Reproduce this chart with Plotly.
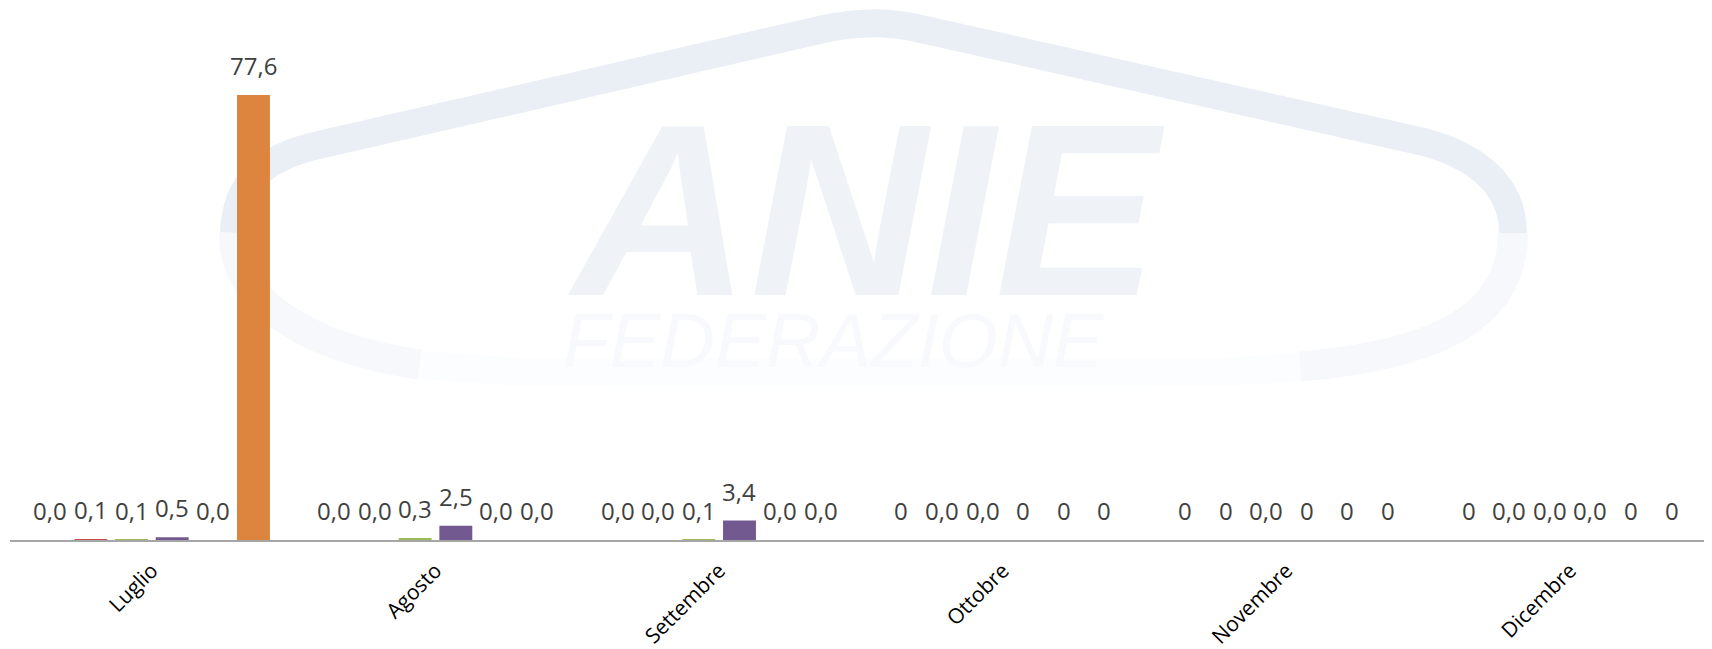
import plotly.graph_objects as go

categories = ["Luglio", "Agosto", "Settembre", "Ottobre", "Novembre", "Dicembre"]

s1 = [0.0, 0.0, 0.0, 0, 0, 0]
s2 = [0.12, 0.0, 0.0, 0.0, 0, 0.0]
s3 = [0.06, 0.3, 0.06, 0.0, 0.0, 0.0]
s4 = [0.5, 2.5, 3.4, 0, 0, 0.0]
s5 = [0.0, 0.0, 0.0, 0, 0, 0]
s6 = [77.6, 0.0, 0.0, 0, 0, 0]

l1 = ["0,0", "0,0", "0,0", "0", "0", "0"]
l2 = ["0,1", "0,0", "0,0", "0,0", "0", "0,0"]
l3 = ["0,1", "0,3", "0,1", "0,0", "0,0", "0,0"]
l4 = ["0,5", "2,5", "3,4", "0", "0", "0,0"]
l5 = ["0,0", "0,0", "0,0", "0", "0", "0"]
l6 = ["77,6", "0,0", "0,0", "0", "0", "0"]

series = [s1, s2, s3, s4, s5, s6]
labels = [l1, l2, l3, l4, l5, l6]
colors = ["#4F81BD", "#C0504D", "#9BBB59", "#725A91", "#4BACC6", "#DD843F"]

# page has an 8px body margin; figure sized to fill the rest of the window
OFF = 8
W, H = 1712 - OFF, 649 - OFF
ML, MR, MT, MB = 2, 0, 2, 104
PW, PH = W - ML - MR, H - MT - MB
BARGAP, GROUPGAP = 0.14, 0.19
PX_PER_UNIT = 5.79


def px(x):
    return (x - OFF - ML) / PW


def py(y):
    return (H - MB - (y - OFF)) / PH


def P(x, y):
    return f"{px(x)},{py(y)}"


fig = go.Figure()
for vals, col in zip(series, colors):
    fig.add_trace(go.Bar(
        x=categories, y=vals,
        marker=dict(color=col, line=dict(width=0)),
        showlegend=False, hoverinfo="x+y",
    ))

annotations = []

# value labels, placed from the data through the axes
slot = PW / len(categories) * (1 - BARGAP) / len(series)
for i, (vals, txt) in enumerate(zip(series, labels)):
    for c, v, t in zip(categories, vals, txt):
        annotations.append(dict(
            x=c, y=v, xref="x", yref="y", text=t, showarrow=False,
            xanchor="center", yanchor="bottom",
            xshift=(i - (len(series) - 1) / 2) * slot, yshift=11,
            font=dict(family="Open Sans", size=24, color="#404040"),
        ))

# faint watermark (decoration)
top_path = (f"M {P(234, 235)} C {P(236, 185)} {P(262, 160)} {P(316, 147)} "
            f"L {P(820, 30)} C {P(860, 21)} {P(890, 21)} {P(925, 30)} "
            f"L {P(1423, 143)} C {P(1480, 158)} {P(1513, 190)} {P(1513, 235)}")
side_left = f"M {P(234, 235)} C {P(232, 300)} {P(300, 350)} {P(420, 368)}"
side_right = f"M {P(1513, 235)} C {P(1513, 318)} {P(1440, 358)} {P(1300, 370)}"
bottom = (f"M {P(420, 368)} C {P(500, 376)} {P(560, 376)} {P(640, 376)} "
          f"L {P(1150, 376)} C {P(1220, 376)} {P(1260, 374)} {P(1300, 370)}")
shapes = [
    dict(type="path", path=top_path, xref="paper", yref="paper",
         line=dict(color="#EAEFF6", width=28), layer="below"),
    dict(type="path", path=side_left, xref="paper", yref="paper",
         line=dict(color="#F6F8FB", width=30), layer="below"),
    dict(type="path", path=side_right, xref="paper", yref="paper",
         line=dict(color="#F6F8FB", width=30), layer="below"),
    dict(type="path", path=bottom, xref="paper", yref="paper",
         line=dict(color="#FCFDFE", width=28), layer="below"),
]
annotations += [
    dict(text="ANIE", x=px(866), y=py(212), xref="paper", yref="paper", showarrow=False,
         font=dict(family="Liberation Sans", size=245, color="#EFF3F8", weight="bold", style="italic"),
         xanchor="center", yanchor="middle"),
    dict(text="FEDERAZIONE", x=px(834), y=py(344), xref="paper", yref="paper", showarrow=False,
         font=dict(family="Liberation Sans", size=76, color="#F7F9FC", style="italic"),
         xanchor="center", yanchor="middle"),
]

fig.update_layout(
    width=W, height=H,
    margin=dict(l=ML, r=MR, t=MT, b=MB),
    barmode="group", bargap=BARGAP, bargroupgap=GROUPGAP,
    plot_bgcolor="rgba(0,0,0,0)", paper_bgcolor="white",
    shapes=shapes, annotations=annotations,
    xaxis=dict(showline=True, linecolor="#A6A6A6", linewidth=2, ticks="",
               tickangle=-45, showgrid=False, zeroline=False,
               tickfont=dict(family="Open Sans", size=21, color="#000000"),
               ticklabelstandoff=8),
    yaxis=dict(visible=False, range=[0, (H - MT - MB) / PX_PER_UNIT],
               showgrid=False, zeroline=False),
)

fig.write_html("out.html")
